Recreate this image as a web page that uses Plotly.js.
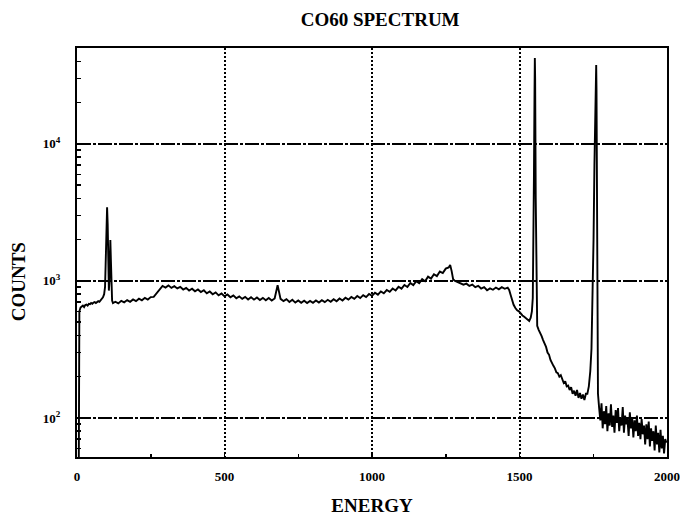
<!DOCTYPE html>
<html>
<head>
<meta charset="utf-8">
<script src="https://cdn.plot.ly/plotly-3.0.1.min.js"></script>
<style>
  html, body { margin: 0; padding: 0; background: #ffffff; }
  #chart { width: 680px; height: 516px; }
</style>
</head>
<body>
<div id="chart"></div>
<script>
// ---- Data (channel / counts) ----
// Segment A: start of spectrum and low-energy X-ray peaks
var chA = [0, 6, 8, 12, 16, 20, 24, 28, 32, 36,
           40, 44, 48, 52, 56, 60, 64, 68, 72, 76,
           80, 84, 88, 92, 95, 97, 99, 101, 102, 104,
           106, 108, 110, 112, 113, 115, 117, 119, 122];
var ctA = [40, 40, 600, 640, 650, 660, 645, 668, 672, 660,
           680, 676, 690, 682, 695, 700, 690, 708, 712, 705,
           725, 735, 760, 800, 900, 1300, 2400, 3300, 3450, 2600,
           1300, 850, 1000, 1700, 1990, 1400, 850, 720, 690];

// Segment B: continuum (backscatter hump, Compton region)
var chB = [130, 140, 150, 160, 170, 180, 190, 200, 210, 220,
           230, 240, 250, 260, 270, 280, 290, 300, 310, 320,
           330, 340, 350, 360, 370, 380, 390, 400, 410, 420,
           430, 440, 450, 460, 470, 480, 490, 500, 510, 520,
           530, 540, 550, 560, 570, 580, 590, 600, 610, 620,
           630, 640, 650, 660, 670, 680, 690, 700, 710, 720,
           730, 740, 750, 760, 770, 780, 790, 800, 810, 820,
           830, 840, 850, 860, 870, 880, 890, 900, 910, 920,
           930, 940, 950, 960, 970, 980, 990, 1000, 1010, 1020,
           1030, 1040, 1050, 1060, 1070, 1080, 1090, 1100, 1110, 1120,
           1130, 1140, 1150, 1160, 1170, 1180, 1190, 1200, 1210, 1220,
           1230, 1240, 1250, 1260, 1265, 1270, 1275, 1280, 1290, 1300,
           1310, 1320, 1330, 1340, 1350, 1360, 1370, 1380, 1390, 1400,
           1410, 1420, 1430, 1440, 1450, 1460];
var ctB = [705, 685, 715, 698, 725, 704, 733, 712, 742, 722,
           752, 732, 762, 765, 815, 870, 918, 895, 928, 890,
           915, 882, 905, 866, 890, 852, 878, 840, 866, 830,
           855, 812, 838, 800, 825, 785, 810, 772, 796, 760,
           785, 748, 772, 740, 765, 732, 760, 730, 758, 726,
           752, 722, 750, 720, 745, 930, 740, 712, 736, 702,
           728, 695, 720, 692, 717, 690, 715, 692, 720, 695,
           724, 700, 728, 705, 736, 710, 744, 720, 754, 730,
           764, 740, 776, 750, 788, 762, 802, 778, 820, 794,
           838, 812, 858, 832, 880, 852, 906, 878, 934, 904,
           965, 932, 995, 962, 1030, 995, 1075, 1040, 1120, 1085,
           1170, 1140, 1230, 1255, 1310, 1180, 1030, 1005, 980, 965,
           940, 955, 920, 940, 900, 920, 880, 900, 855, 882,
           862, 895, 868, 900, 876, 892];

// Segment C: Compton edge, 1.17 MeV peak, tail, 1.33 MeV peak
var chC = [1465, 1470, 1475, 1480, 1486, 1492, 1498, 1504, 1510, 1516,
           1522, 1528, 1533, 1538, 1542, 1545, 1547, 1549, 1551, 1552,
           1553, 1555, 1557, 1560, 1565, 1570, 1575, 1580, 1585, 1590,
           1595, 1600, 1605, 1610, 1615, 1620, 1625, 1630, 1635, 1640,
           1645, 1650, 1655, 1660, 1665, 1670, 1675, 1680, 1685, 1690,
           1695, 1700, 1705, 1710, 1715, 1720, 1725, 1730, 1735, 1740,
           1744, 1748, 1751, 1754, 1756, 1758, 1760, 1761, 1762, 1764,
           1766];
var ctC = [860, 790, 720, 670, 635, 610, 600, 575, 560, 548,
           535, 520, 510, 540, 600, 750, 1500, 6000, 25000, 42400,
           30000, 4000, 700, 470, 440, 410, 395, 370, 350, 330,
           300, 290, 265, 255, 240, 230, 215, 212, 200, 205,
           190, 180, 185, 170, 172, 160, 168, 150, 158, 145,
           160, 140, 152, 138, 148, 135, 150, 150, 170, 220,
           320, 700, 2000, 7000, 18000, 30000, 37700, 25000, 4000, 600,
           150];

// Segment D: high-energy noise above the 1.33 MeV peak
var chD = [1770, 1774, 1778, 1782, 1786, 1790, 1794, 1798, 1802, 1806,
           1810, 1814, 1818, 1822, 1826, 1830, 1834, 1838, 1842, 1846,
           1850, 1854, 1858, 1862, 1866, 1870, 1874, 1878, 1882, 1886,
           1890, 1894, 1898, 1902, 1906, 1910, 1914, 1918, 1922, 1926,
           1930, 1934, 1938, 1942, 1946, 1950, 1954, 1958, 1962, 1966,
           1970, 1974, 1978, 1982, 1986, 1990, 1994, 1998];
var ctD = [118, 96, 128, 84, 112, 90, 122, 80, 108, 88,
           126, 86, 104, 78, 114, 92, 118, 80, 100, 88,
           120, 78, 104, 90, 98, 74, 110, 84, 100, 72,
           96, 80, 104, 74, 92, 70, 98, 76, 88, 64,
           90, 70, 94, 62, 84, 68, 80, 58, 88, 64,
           78, 56, 82, 60, 74, 55, 70, 66];

// Axis ticks
var xTickVals = [0, 500, 1000, 1500, 2000];
var xTickText = ['0', '500', '1000', '1500', '2000'];
var xMinorVals = [250, 750, 1250, 1750];
var yTickVals = [100, 1000, 10000];
var yTickText = ['10<sup>2</sup>', '10<sup>3</sup>', '10<sup>4</sup>'];
var yMinorVals = [60, 70, 80, 90, 200, 300, 400, 500, 600, 700, 800, 900,
                  2000, 3000, 4000, 5000, 6000, 7000, 8000, 9000,
                  20000, 30000, 40000];

var channel = chA.concat(chB, chC, chD);
var counts = ctA.concat(ctB, ctC, ctD);

var serif = '"Liberation Serif", "Times New Roman", "DejaVu Serif", serif';

var trace = {
  x: channel,
  y: counts,
  type: 'scatter',
  mode: 'lines',
  line: { color: '#000000', width: 1.9 },
  hoverinfo: 'skip'
};

var layout = {
  width: 680,
  height: 516,
  paper_bgcolor: '#ffffff',
  plot_bgcolor: '#ffffff',
  showlegend: false,
  margin: { l: 77, r: 13, t: 48, b: 59 },
  title: {
    text: '<b>CO60 SPECTRUM</b>',
    font: { family: serif, size: 19, color: '#000000' },
    xref: 'container', x: 0.559, xanchor: 'center',
    yref: 'container', y: 0.963, yanchor: 'middle'
  },
  xaxis: {
    range: [0, 2000],
    tickmode: 'array',
    tickvals: xTickVals,
    ticktext: xTickText,
    ticks: 'inside',
    ticklen: 4,
    tickwidth: 1.5,
    tickcolor: '#000000',
    tickfont: { family: serif, size: 13, color: '#000000', weight: 'bold' },
    ticklabelstandoff: 6,
    showline: true,
    linecolor: '#000000',
    linewidth: 2,
    mirror: true,
    showgrid: true,
    gridcolor: '#000000',
    gridwidth: 2,
    griddash: '2px,2px',
    zeroline: false,
    minor: { tickmode: 'array', tickvals: xMinorVals, ticks: 'inside', ticklen: 3, tickcolor: '#000000', showgrid: false },
    title: {
      text: '<b>ENERGY</b>',
      font: { family: serif, size: 19, color: '#000000' },
      standoff: 20
    }
  },
  yaxis: {
    type: 'log',
    range: [1.715, 4.70],
    tickmode: 'array',
    tickvals: yTickVals,
    ticktext: yTickText,
    ticks: 'inside',
    ticklen: 6,
    tickwidth: 1.5,
    tickcolor: '#000000',
    tickfont: { family: serif, size: 13, color: '#000000', weight: 'bold' },
    ticklabelstandoff: 12,
    showline: true,
    linecolor: '#000000',
    linewidth: 2,
    mirror: true,
    showgrid: true,
    gridcolor: '#000000',
    gridwidth: 1.3,
    griddash: '14px,2px,3px,2px',
    zeroline: false,
    minor: { tickmode: 'array', tickvals: yMinorVals, ticks: 'inside', ticklen: 4, tickcolor: '#000000', showgrid: false }
  },
  annotations: [{
    text: '<b>COUNTS</b>',
    font: { family: serif, size: 19, color: '#000000' },
    textangle: -90,
    xref: 'paper', x: -0.1, xanchor: 'center',
    yref: 'y', y: 2.99, yanchor: 'middle',
    showarrow: false
  }]
};

Plotly.newPlot('chart', [trace], layout, { displayModeBar: false, staticPlot: true });
</script>
</body>
</html>
